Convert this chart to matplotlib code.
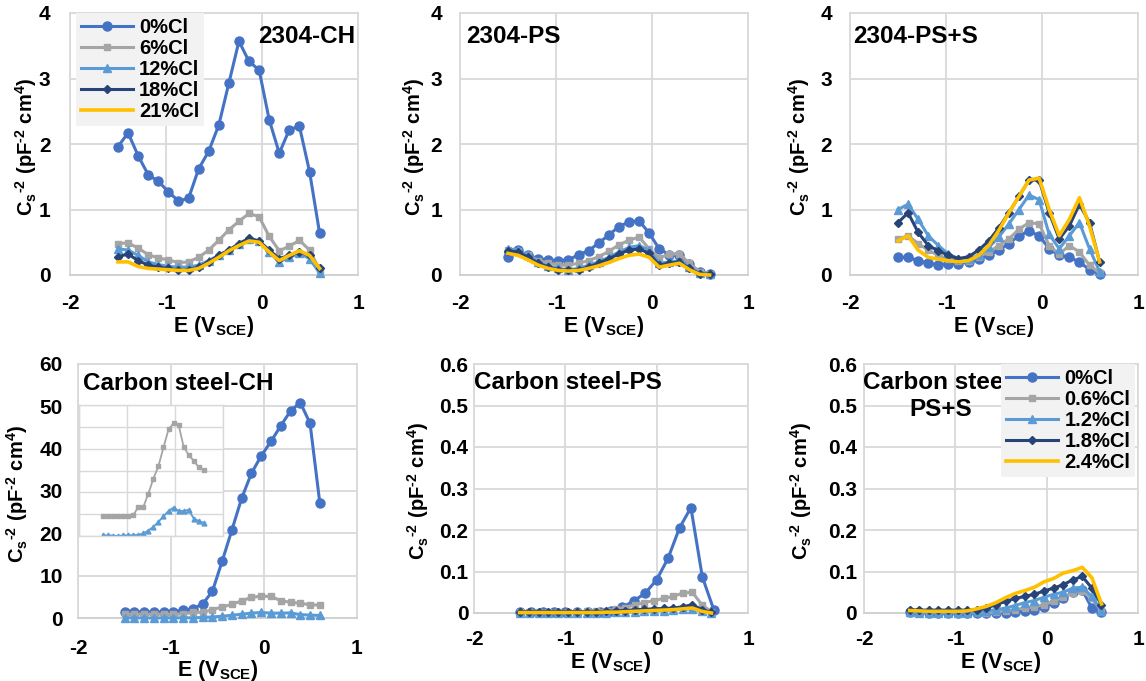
import matplotlib
matplotlib.use("Agg")
import matplotlib.pyplot as plt
from matplotlib.ticker import FuncFormatter

# potential grid (V vs SCE)
E = [-1.5, -1.395, -1.29, -1.185, -1.08, -0.975, -0.87, -0.765, -0.66, -0.555, -0.45,
     -0.345, -0.24, -0.135, -0.03, 0.075, 0.18, 0.285, 0.39, 0.495, 0.6]
E_coarse = [-1.5, -1.375, -1.25, -1.125, -1.0, -0.875, -0.75, -0.625, -0.5, -0.375,
            -0.25, -0.125, 0.0, 0.125, 0.25, 0.375, 0.5, 0.625]

# 2304-CH
ch_0 = [1.96, 2.17, 1.82, 1.53, 1.43, 1.27, 1.13, 1.17, 1.62, 1.89, 2.29,
        2.93, 3.57, 3.26, 3.13, 2.37, 1.86, 2.22, 2.27, 1.58, 0.64]
ch_6 = [0.48, 0.49, 0.41, 0.31, 0.26, 0.23, 0.19, 0.20, 0.27, 0.38, 0.53,
        0.69, 0.82, 0.94, 0.89, 0.59, 0.37, 0.44, 0.53, 0.38, 0.08]
ch_12 = [0.40, 0.38, 0.30, 0.20, 0.16, 0.13, 0.12, 0.12, 0.15, 0.22, 0.30,
         0.38, 0.47, 0.55, 0.52, 0.35, 0.20, 0.27, 0.33, 0.25, 0.03]
ch_18 = [0.28, 0.32, 0.22, 0.15, 0.12, 0.10, 0.07, 0.08, 0.12, 0.20, 0.30,
         0.38, 0.48, 0.56, 0.52, 0.38, 0.25, 0.30, 0.35, 0.30, 0.10]
ch_21 = [0.20, 0.20, 0.13, 0.10, 0.09, 0.08, 0.07, 0.07, 0.10, 0.18, 0.27,
         0.37, 0.45, 0.52, 0.50, 0.35, 0.22, 0.30, 0.37, 0.30, 0.10]

# 2304-PS
ps_0 = [0.28, 0.38, 0.30, 0.25, 0.23, 0.22, 0.23, 0.31, 0.37, 0.49, 0.61,
        0.74, 0.81, 0.83, 0.64, 0.40, 0.31, 0.30, 0.17, 0.05, 0.01]
ps_6 = [0.38, 0.37, 0.30, 0.22, 0.18, 0.15, 0.15, 0.18, 0.22, 0.28, 0.36,
        0.46, 0.53, 0.58, 0.40, 0.26, 0.32, 0.32, 0.18, 0.05, 0.02]
ps_12 = [0.40, 0.38, 0.30, 0.20, 0.13, 0.10, 0.08, 0.10, 0.15, 0.20, 0.27,
         0.35, 0.42, 0.45, 0.38, 0.18, 0.20, 0.22, 0.12, 0.03, 0.02]
ps_18 = [0.37, 0.35, 0.27, 0.18, 0.12, 0.08, 0.07, 0.08, 0.12, 0.18, 0.25,
         0.32, 0.38, 0.40, 0.33, 0.15, 0.18, 0.20, 0.10, 0.02, 0.01]
ps_21 = [0.33, 0.30, 0.23, 0.15, 0.10, 0.07, 0.06, 0.07, 0.10, 0.14, 0.19,
         0.25, 0.30, 0.32, 0.27, 0.12, 0.15, 0.18, 0.08, 0.01, 0.0]

# 2304-PS+S
pss_0 = [0.27, 0.27, 0.22, 0.18, 0.16, 0.17, 0.17, 0.20, 0.25, 0.30, 0.38,
         0.48, 0.60, 0.67, 0.60, 0.40, 0.30, 0.27, 0.20, 0.08, 0.02]
pss_6 = [0.55, 0.60, 0.48, 0.38, 0.30, 0.25, 0.22, 0.22, 0.28, 0.35, 0.45,
         0.55, 0.70, 0.80, 0.78, 0.45, 0.32, 0.45, 0.35, 0.15, 0.03]
pss_12 = [1.00, 1.08, 0.85, 0.60, 0.45, 0.32, 0.25, 0.25, 0.30, 0.42, 0.58,
          0.78, 1.00, 1.22, 1.15, 0.62, 0.40, 0.60, 0.80, 0.40, 0.05]
pss_18 = [0.80, 0.95, 0.65, 0.45, 0.37, 0.30, 0.25, 0.28, 0.38, 0.52, 0.72,
          0.95, 1.20, 1.45, 1.45, 0.95, 0.55, 0.75, 1.08, 0.80, 0.20]
pss_21 = [0.52, 0.60, 0.38, 0.27, 0.24, 0.22, 0.20, 0.22, 0.30, 0.45, 0.68,
          0.95, 1.20, 1.45, 1.48, 1.00, 0.60, 0.85, 1.18, 0.75, 0.20]

# Carbon steel-CH
csch_0 = [1.5, 1.5, 1.4, 1.4, 1.4, 1.5, 1.8, 2.2, 3.3, 6.3, 13.4,
          20.8, 28.3, 34.2, 38.3, 41.7, 45.4, 48.9, 50.9, 46.0, 27.2]
csch_06 = [0.9, 0.9, 0.9, 0.9, 0.9, 0.92, 0.95, 1.33, 1.33, 1.94, 2.63,
           3.2, 4.06, 4.88, 5.16, 5.09, 4.09, 3.71, 3.45, 3.14, 3.02]
csch_12 = [0.03, 0.03, 0.02, 0.0, 0.03, 0.03, 0.04, 0.05, 0.12, 0.25, 0.42,
           0.65, 0.9, 1.15, 1.3, 1.15, 1.15, 1.2, 0.8, 0.69, 0.6]

# Carbon steel-PS
csps_0 = [0.002, 0.002, 0.002, 0.002, 0.002, 0.002, 0.002, 0.003, 0.005, 0.014,
          0.029, 0.048, 0.080, 0.132, 0.205, 0.254, 0.087, 0.008]
csps_06 = [0.002, 0.002, 0.002, 0.002, 0.002, 0.002, 0.003, 0.004, 0.005, 0.006, 0.009,
           0.013, 0.020, 0.025, 0.030, 0.035, 0.040, 0.048, 0.050, 0.020, 0.003]
csps_12 = [0.001, 0.001, 0.001, 0.001, 0.001, 0.001, 0.001, 0.001, 0.001, 0.001, 0.002,
           0.002, 0.003, 0.004, 0.005, 0.006, 0.007, 0.009, 0.010, 0.004, 0.001]
csps_18 = [0.003, 0.003, 0.003, 0.003, 0.003, 0.003, 0.003, 0.003, 0.003, 0.004, 0.005,
           0.006, 0.008, 0.009, 0.010, 0.011, 0.012, 0.015, 0.020, 0.008, 0.002]
csps_24 = [0.001, 0.001, 0.001, 0.001, 0.001, 0.001, 0.001, 0.001, 0.001, 0.002, 0.002,
           0.003, 0.004, 0.005, 0.006, 0.007, 0.008, 0.010, 0.012, 0.004, 0.0]

# Carbon steel-PS+S
cspss_0 = [0.002, 0.002, 0.001, 0.001, 0.001, 0.001, 0.001, 0.001, 0.001, 0.001, 0.001,
           0.002, 0.005, 0.008, 0.015, 0.025, 0.035, 0.050, 0.055, 0.012, 0.003]
cspss_06 = [0.001, 0.001, 0.001, 0.001, 0.001, 0.001, 0.001, 0.001, 0.001, 0.002, 0.005,
            0.008, 0.012, 0.015, 0.020, 0.028, 0.038, 0.048, 0.052, 0.035, 0.005]
cspss_12 = [0.002, 0.001, 0.001, 0.001, 0.001, 0.001, 0.001, 0.002, 0.005, 0.008, 0.012,
            0.018, 0.025, 0.030, 0.038, 0.045, 0.050, 0.060, 0.062, 0.040, 0.005]
cspss_18 = [0.008, 0.007, 0.007, 0.007, 0.007, 0.007, 0.007, 0.008, 0.012, 0.020, 0.028,
            0.035, 0.040, 0.045, 0.053, 0.060, 0.068, 0.080, 0.088, 0.060, 0.020]
cspss_24 = [0.006, 0.005, 0.004, 0.004, 0.004, 0.004, 0.005, 0.010, 0.016, 0.025, 0.037,
            0.047, 0.054, 0.062, 0.075, 0.083, 0.096, 0.102, 0.110, 0.085, 0.022]

labels_ss = ["0%Cl", "6%Cl", "12%Cl", "18%Cl", "21%Cl"]
labels_cs = ["0%Cl", "0.6%Cl", "1.2%Cl", "1.8%Cl", "2.4%Cl"]

COLORS = ["#4472C4", "#A5A5A5", "#5B9BD5", "#264478", "#FFC000"]
MARKERS = ["o", "s", "^", "D", None]
MSIZE = [6.5, 5, 5.5, 4.5, 0]
GRID = "#D9D9D9"

YLABEL = r"$C_s{}^{\text{-}2}\ (pF^{\text{-}2}\ cm^{4})$"
XLABEL = r"E (V$_{SCE}$)"


def plot_series(ax, xs, ys, idx, label=None):
    ax.plot(xs, ys, color=COLORS[idx], marker=MARKERS[idx], markersize=MSIZE[idx],
            lw=2.6 if idx == 4 else 2.2, label=label, zorder=3 + idx, clip_on=False)


def style(ax, ymax, ystep, xlab_y, ylab_x, ypad, xpad):
    ax.set_xlim(-2, 1)
    ax.set_ylim(0, ymax)
    ax.set_xticks([-2, -1, 0, 1])
    n = int(round(ymax / ystep))
    ax.set_yticks([i * ystep for i in range(n + 1)])
    ax.yaxis.set_major_formatter(FuncFormatter(lambda v, p: f"{v:g}"))
    ax.grid(True, color=GRID, lw=1.3)
    ax.set_axisbelow(True)
    for s in ax.spines.values():
        s.set_color(GRID)
        s.set_linewidth(1.3)
    ax.spines["bottom"].set_color("#CFCFCF")
    ax.tick_params(length=0, labelsize=15)
    ax.tick_params(axis="y", pad=ypad)
    ax.tick_params(axis="x", pad=xpad)
    ax.set_xlabel(XLABEL, fontsize=15.5, va="center")
    ax.set_ylabel(YLABEL, fontsize=14.5, va="center")
    ax.xaxis.set_label_coords(0.5, xlab_y)
    ax.yaxis.set_label_coords(ylab_x, 0.49)


def legend(ax, labels, loc, anchor):
    leg = ax.legend(labels=labels, loc=loc, bbox_to_anchor=anchor, fontsize=14.5,
                    frameon=True, fancybox=False, handlelength=2.6, handletextpad=0.3,
                    labelspacing=0.1, borderpad=0.25, borderaxespad=0)
    leg.get_frame().set_facecolor("#F2F2F2")
    leg.get_frame().set_edgecolor("none")
    leg.get_frame().set_alpha(1)
    leg.set_zorder(20)


def main():
    plt.rcParams["font.family"] = ["Liberation Sans", "DejaVu Sans"]
    plt.rcParams["font.weight"] = "bold"
    plt.rcParams["axes.labelweight"] = "bold"
    plt.rcParams["axes.unicode_minus"] = False
    plt.rcParams["mathtext.fontset"] = "custom"
    plt.rcParams["mathtext.rm"] = "Liberation Sans:bold"
    plt.rcParams["mathtext.it"] = "Liberation Sans:bold"
    plt.rcParams["mathtext.bf"] = "Liberation Sans:bold"
    plt.rcParams["mathtext.default"] = "rm"

    W, H = 1146, 681
    fig = plt.figure(figsize=(W / 100, H / 100), dpi=100)

    def rect(l, r, t, b):
        return [l / W, 1 - b / H, (r - l) / W, (b - t) / H]

    # ---- top row: 2304 duplex
    ax1 = fig.add_axes(rect(70, 358, 13, 275))
    ax2 = fig.add_axes(rect(460, 748, 13, 275))
    ax3 = fig.add_axes(rect(850, 1138, 13, 275))
    for ax, data in [(ax1, [ch_0, ch_6, ch_12, ch_18, ch_21]),
                     (ax2, [ps_0, ps_6, ps_12, ps_18, ps_21]),
                     (ax3, [pss_0, pss_6, pss_12, pss_18, pss_21])]:
        for i, ys in enumerate(data):
            plot_series(ax, E, ys, i)
    style(ax1, 4, 1, -0.198, -0.152, 14, 14)
    style(ax2, 4, 1, -0.198, -0.16, 13, 14)
    style(ax3, 4, 1, -0.198, -0.176, 13, 14)
    legend(ax1, labels_ss, "upper left", (0.02, 1.0))
    ax1.text(0.99, 0.955, "2304-CH", transform=ax1.transAxes, ha="right", va="top",
             fontsize=17.5, zorder=25)
    ax2.text(0.02, 0.955, "2304-PS", transform=ax2.transAxes, ha="left", va="top",
             fontsize=17.5, zorder=25)
    ax3.text(0.01, 0.955, "2304-PS+S", transform=ax3.transAxes, ha="left", va="top",
             fontsize=17.5, zorder=25)

    # ---- bottom row: carbon steel
    ax4 = fig.add_axes(rect(78, 357, 364, 618))
    ax5 = fig.add_axes(rect(474, 748, 364, 613))
    ax6 = fig.add_axes(rect(864, 1138, 364, 613))
    for i, ys in enumerate([csch_0, csch_06, csch_12]):
        plot_series(ax4, E, ys, i)
    plot_series(ax5, E_coarse, csps_0, 0)
    for i, ys in enumerate([csps_06, csps_12, csps_18, csps_24]):
        plot_series(ax5, E, ys, i + 1)
    for i, ys in enumerate([cspss_0, cspss_06, cspss_12, cspss_18, cspss_24]):
        plot_series(ax6, E, ys, i)
    style(ax4, 60, 10, -0.205, -0.218, 11, 15)
    style(ax5, 0.6, 0.1, -0.197, -0.206, 4, 12)
    style(ax6, 0.6, 0.1, -0.197, -0.228, 5, 12)
    ax4.text(0.018, 0.97, "Carbon steel-CH", transform=ax4.transAxes, ha="left",
             va="top", fontsize=17.5, zorder=25)
    ax5.text(0.0, 0.97, "Carbon steel-PS", transform=ax5.transAxes, ha="left",
             va="top", fontsize=17.5, zorder=25)
    ax6.text(0.28, 0.97, "Carbon steel-\nPS+S", transform=ax6.transAxes, ha="center",
             va="top", fontsize=17.5, linespacing=1.2, multialignment="center", zorder=5)
    legend(ax6, labels_cs, "upper right", (0.99, 1.0))

    # inset zoom of the low curves in carbon steel-CH
    axin = fig.add_axes(rect(79, 223, 405, 536))
    axin.set_facecolor("white")
    axin.plot(E, csch_06, color=COLORS[1], marker="s", markersize=3, lw=1.3)
    axin.plot(E, csch_12, color=COLORS[2], marker="^", markersize=3.5, lw=1.3)
    axin.set_xlim(-2, 1)
    axin.set_ylim(0, 6)
    axin.set_xticks([-2, -1, 0, 1])
    axin.set_yticks(range(7))
    axin.set_xticklabels([])
    axin.set_yticklabels([])
    axin.tick_params(length=0)
    axin.grid(True, color=GRID, lw=1.0)
    axin.set_axisbelow(True)
    for s in axin.spines.values():
        s.set_color(GRID)
        s.set_linewidth(1.0)

    plt.savefig("out.png", dpi=100)


if __name__ == "__main__":
    main()
